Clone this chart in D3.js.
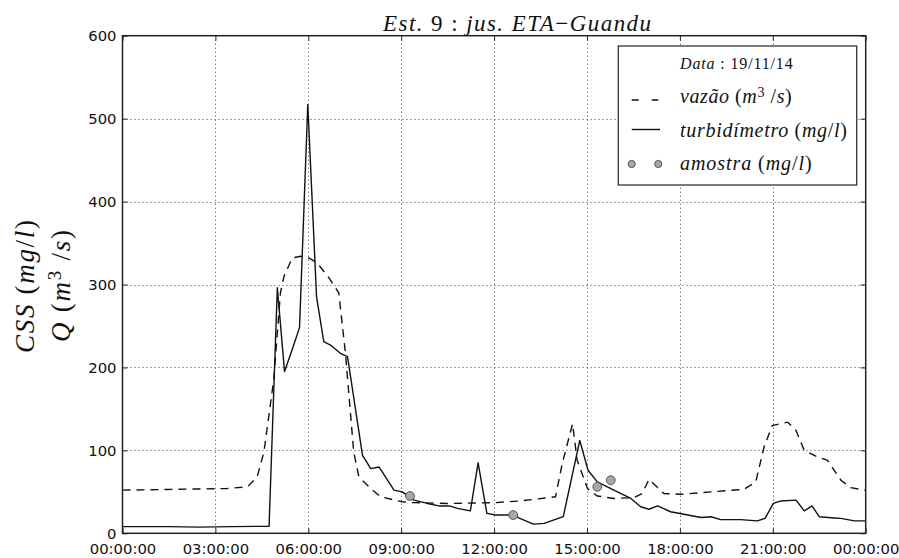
<!DOCTYPE html>
<html><head><meta charset="utf-8">
<script src="https://cdn.jsdelivr.net/npm/d3@7"></script>
<style>body{margin:0;background:#fff}svg{display:block}</style>
</head><body>
<svg id="c" width="899" height="558"></svg>
<script>
// ---- data ----
const vazaoTime  = ["00:00","03:23","04:02","04:21","04:34","04:53","05:06","05:13","05:29","05:45","06:01","06:17","06:40","06:59","07:12","07:28","07:38","08:01","08:20","09:02","09:25","10:29","12:03","12:51","13:59","14:12","14:32","14:41","15:01","15:20","15:52","16:31","16:47","17:00","17:29","18:02","19:00","20:04","20:27","20:43","20:59","21:29","21:45","22:01","22:27","22:46","23:12","23:31","24:00"];
const vazaoValue = [52,54,56,68,98,185,290,310,332,334,332,326,308,290,217,98,68,54,44,38,37,36,37,39,44,84,132,88,54,45,42,43,48,65,48,47,50,53,62,104,130,134,124,100,92,88,64,55,52];

const turbTime  = ["00:00","01:30","02:30","03:30","04:44","05:00","05:14","05:28","05:43","05:59","06:16","06:30","06:43","07:02","07:16","07:45","08:01","08:17","08:46","09:02","09:25","09:51","10:13","10:33","10:49","11:14","11:29","11:46","12:03","12:35","12:58","13:16","13:37","14:14","14:46","15:02","15:20","15:52","16:25","16:44","17:00","17:17","17:42","18:08","18:41","19:00","19:19","19:58","20:30","20:45","21:01","21:16","21:45","22:01","22:16","22:30","22:59","23:12","23:38","24:00"];
const turbValue = [8,8,7.5,8,8.5,296,195,220,248,517,285,231,227,217,213,94,78,80,52,50,40,36,33,33,30,27,85,24,22,22,16,11,12,20,112,76,62,52,42,32,29,33,26,23,19,20,16.5,16.5,15,18,36,39,40,27,33,20,18.5,18,15,15];

const amostraTime  = ["09:17","12:37","15:20","15:46"];
const amostraValue = [45,22,56,64];

const yTicks = [0,100,200,300,400,500,600];
const xTickTimes = ["00:00","03:00","06:00","09:00","12:00","15:00","18:00","21:00","24:00"];

// ---- helpers ----
const day = Date.UTC(2014,10,19);
function t(s){const p=s.split(":").map(Number);return new Date(day+(p[0]*60+p[1])*60000);}
const zip=(ts,vs)=>ts.map((s,i)=>({time:t(s),v:vs[i]}));

const svg=d3.select("#c");
const M={left:122.5,right:865.7,top:35.7,bottom:533.3};
const x=d3.scaleUtc().domain([t("00:00"),t("24:00")]).range([M.left,M.right]);
const y=d3.scaleLinear().domain([0,600]).range([M.bottom,M.top]);
const xTicks=xTickTimes.map(t);
const fmt=d3.utcFormat("%H:%M:%S");

// grid
const grid=svg.append("g").attr("stroke","#000").attr("stroke-width",1).attr("stroke-dasharray","1,3").attr("opacity",0.75);
grid.selectAll("line.v").data(xTicks.slice(1,-1)).join("line")
  .attr("x1",d=>Math.round(x(d))+0.5).attr("x2",d=>Math.round(x(d))+0.5).attr("y1",M.top).attr("y2",M.bottom);
grid.selectAll("line.h").data(yTicks.slice(1,-1)).join("line")
  .attr("y1",d=>Math.round(y(d))+0.5).attr("y2",d=>Math.round(y(d))+0.5).attr("x1",M.left).attr("x2",M.right);

// lines
const line=d3.line().x(d=>x(d.time)).y(d=>y(d.v));
svg.append("path").datum(zip(vazaoTime,vazaoValue)).attr("d",line)
  .attr("fill","none").attr("stroke","#111").attr("stroke-width",1.4).attr("stroke-dasharray","8,6");
svg.append("path").datum(zip(turbTime,turbValue)).attr("d",line)
  .attr("fill","none").attr("stroke","#111").attr("stroke-width",1.4).attr("stroke-linejoin","round");
svg.append("g").selectAll("circle").data(zip(amostraTime,amostraValue)).join("circle")
  .attr("cx",d=>x(d.time)).attr("cy",d=>y(d.v)).attr("r",4.4)
  .attr("fill","#a8a8a8").attr("stroke","#555").attr("stroke-width",1);

// axes
const tickFont="DejaVu Sans";
const ax=(g)=>{g.select(".domain").remove();g.selectAll("line").attr("stroke","#222");g.selectAll("text").attr("font-family",tickFont).attr("font-size","14.8px").attr("fill","#111");};
svg.append("g").attr("transform",`translate(0,${M.bottom})`)
  .call(d3.axisBottom(x).tickValues(xTicks).tickFormat(fmt).tickSizeInner(-5).tickSizeOuter(0).tickPadding(10)).call(ax);
svg.append("g").attr("transform",`translate(0,${M.top})`)
  .call(d3.axisTop(x).tickValues(xTicks).tickFormat("").tickSizeInner(-5).tickSizeOuter(0)).call(ax);
svg.append("g").attr("transform",`translate(${M.left},0)`)
  .call(d3.axisLeft(y).tickValues(yTicks).tickSizeInner(-5).tickSizeOuter(0).tickPadding(6)).call(ax);
svg.append("g").attr("transform",`translate(${M.right},0)`)
  .call(d3.axisRight(y).tickValues(yTicks).tickFormat("").tickSizeInner(-5).tickSizeOuter(0)).call(ax);

// frame
svg.append("rect").attr("x",M.left).attr("y",M.top).attr("width",M.right-M.left).attr("height",M.bottom-M.top)
  .attr("fill","none").attr("stroke","#222").attr("stroke-width",1.5);

// math-like text helper
const serif="'Liberation Serif','DejaVu Serif',serif";
function mtext(parent,parts,attrs){
  const tx=parent.append("text").attr("font-family",serif).attr("fill","#111");
  Object.entries(attrs).forEach(([k,v])=>tx.attr(k,v));
  parts.forEach(p=>{
    const ts=tx.append("tspan").text(p.s).attr("font-style",p.i?"italic":"normal");
    if(p.sup){ts.attr("font-size","70%").attr("baseline-shift","45%");}
  });
  return tx;
}

// title
mtext(svg,[{s:"Est.",i:1},{s:" 9 : "},{s:"jus.",i:1},{s:" "},{s:"ETA",i:1},{s:"−"},{s:"Guandu",i:1}],
  {x:383,y:30.7,"font-size":"23px",textLength:268,lengthAdjust:"spacing"});

// y label
const yl=svg.append("g");
mtext(yl,[{s:"CSS",i:1},{s:" ("},{s:"mg",i:1},{s:"/"},{s:"l",i:1},{s:")"}],
  {transform:"translate(34,353) rotate(-90)","font-size":"27px",textLength:133,lengthAdjust:"spacing"});
mtext(yl,[{s:"Q",i:1},{s:" ("},{s:"m",i:1},{s:"3",sup:1},{s:" /"},{s:"s",i:1},{s:")"}],
  {transform:"translate(70,342) rotate(-90)","font-size":"27px",textLength:112,lengthAdjust:"spacing"});

// legend
const lg=svg.append("g");
lg.append("rect").attr("x",618.3).attr("y",46).attr("width",238.4).attr("height",139)
  .attr("fill","#fff").attr("stroke","#333").attr("stroke-width",1.3);
mtext(lg,[{s:"Data",i:1},{s:" : 19/11/14"}],{x:680,y:68.5,"font-size":"16px",textLength:112.7,lengthAdjust:"spacing"});
lg.append("line").attr("x1",631.7).attr("x2",658.3).attr("y1",100).attr("y2",100)
  .attr("stroke","#111").attr("stroke-width",1.4).attr("stroke-dasharray","7,13");
mtext(lg,[{s:"vazão",i:1},{s:" ("},{s:"m",i:1},{s:"3",sup:1},{s:" /"},{s:"s",i:1},{s:")"}],{x:680,y:103,"font-size":"20px",textLength:111.7,lengthAdjust:"spacing"});
lg.append("line").attr("x1",631.7).attr("x2",660).attr("y1",129.5).attr("y2",129.5)
  .attr("stroke","#111").attr("stroke-width",1.4);
mtext(lg,[{s:"turbidímetro",i:1},{s:" ("},{s:"mg",i:1},{s:"/"},{s:"l",i:1},{s:")"}],{x:680,y:136.5,"font-size":"20px",textLength:167,lengthAdjust:"spacing"});
lg.selectAll("circle").data([631.7,658.3]).join("circle").attr("cx",d=>d).attr("cy",164).attr("r",3.6)
  .attr("fill","#a8a8a8").attr("stroke","#555").attr("stroke-width",1);
mtext(lg,[{s:"amostra",i:1},{s:" ("},{s:"mg",i:1},{s:"/"},{s:"l",i:1},{s:")"}],{x:680,y:170,"font-size":"20px",textLength:131.7,lengthAdjust:"spacing"});
</script>
</body></html>
